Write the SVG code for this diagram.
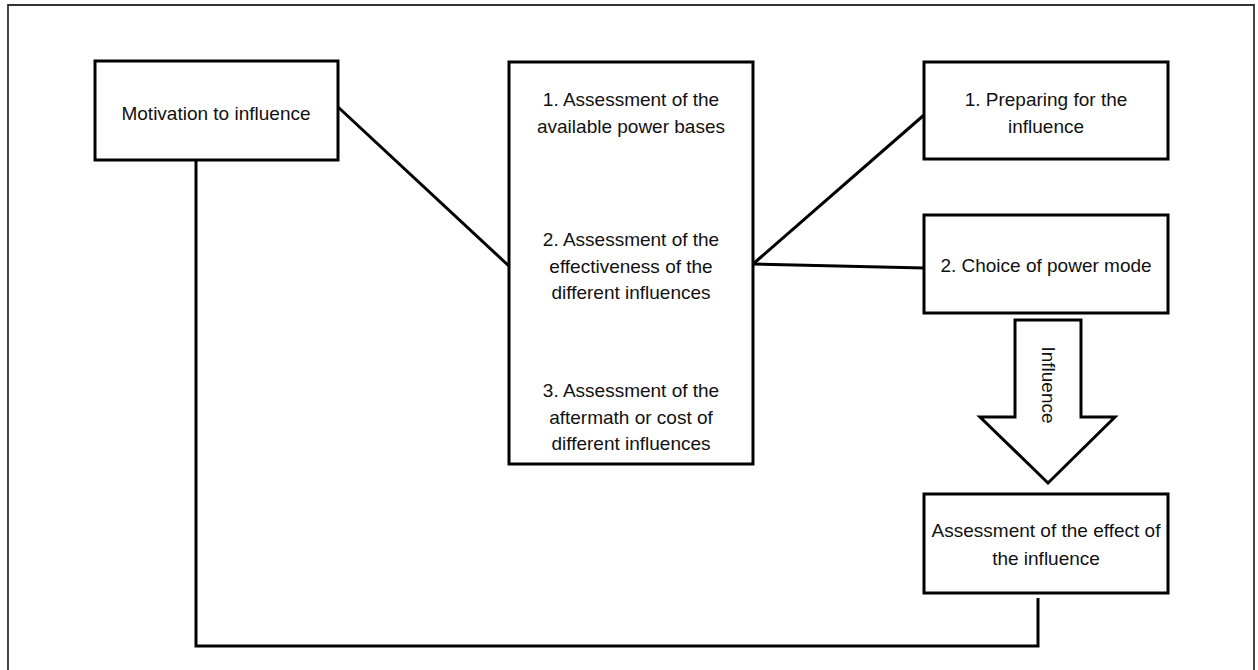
<svg xmlns="http://www.w3.org/2000/svg" width="1258" height="670" viewBox="0 0 1258 670">
<style>
.box{fill:#fff;stroke:#000;stroke-width:3}
.t{font-family:"Liberation Sans",Arial,sans-serif;font-size:19px;fill:#111;text-anchor:middle;dominant-baseline:central}
.c{fill:none;stroke:#000;stroke-width:3}
</style>
<rect x="0" y="0" width="1258" height="670" fill="#fff"/>
<path d="M8 672 V5 H1254 V672" fill="none" stroke="#333" stroke-width="1.8"/>
<g id="connectors">
<line class="c" x1="338" y1="107" x2="510" y2="267"/>
<line class="c" x1="753" y1="264" x2="924" y2="115"/>
<line class="c" x1="753" y1="264" x2="924" y2="268"/>
<path class="c" d="M196 160 V646 H1038 V598"/>
</g>
<g id="motivation">
<rect class="box" x="95" y="61" width="243" height="99"/>
<text class="t" x="216" y="113">Motivation to influence</text>
</g>
<g id="assessment">
<rect class="box" x="509" y="62" width="244" height="402"/>
<text class="t" x="631" y="99">1. Assessment of the</text>
<text class="t" x="631" y="126">available power bases</text>
<text class="t" x="631" y="239">2. Assessment of the</text>
<text class="t" x="631" y="266">effectiveness of the</text>
<text class="t" x="631" y="292">different influences</text>
<text class="t" x="631" y="390">3. Assessment of the</text>
<text class="t" x="631" y="417">aftermath or cost of</text>
<text class="t" x="631" y="443">different influences</text>
</g>
<g id="preparing">
<rect class="box" x="924" y="62" width="244" height="97"/>
<text class="t" x="1046" y="99">1. Preparing for the</text>
<text class="t" x="1046" y="126">influence</text>
</g>
<g id="choice">
<rect class="box" x="924" y="215" width="244" height="98"/>
<text class="t" x="1046" y="265">2. Choice of power mode</text>
</g>
<g id="influence-arrow">
<polygon points="1015,320 1081,320 1081,417 1115,417 1048,483 980,417 1015,417" fill="#fff" stroke="#000" stroke-width="3" stroke-linejoin="miter"/>
<text class="t" x="0" y="0" transform="translate(1048 385) rotate(90)">Influence</text>
</g>
<g id="effect">
<rect class="box" x="924" y="494" width="244" height="99"/>
<text class="t" x="1046" y="530">Assessment of the effect of</text>
<text class="t" x="1046" y="558">the influence</text>
</g>
</svg>
